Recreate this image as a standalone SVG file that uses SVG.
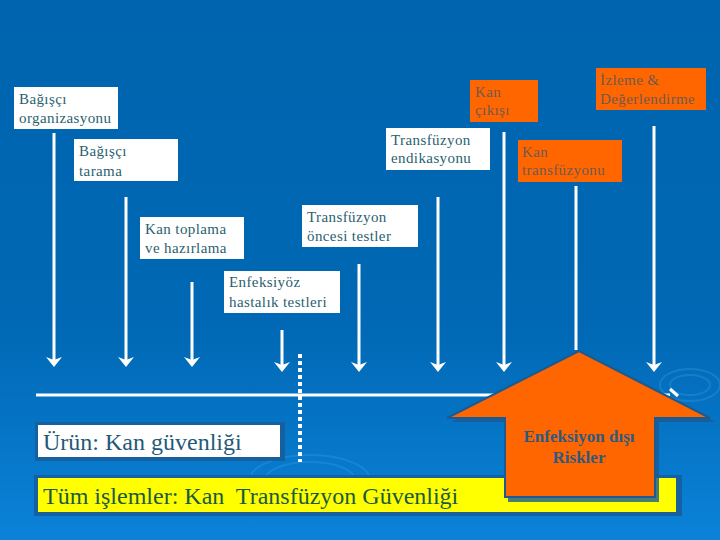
<svg xmlns="http://www.w3.org/2000/svg" width="720" height="540" viewBox="0 0 720 540">
<defs>
<linearGradient id="bg" x1="0" y1="0" x2="0" y2="1">
<stop offset="0" stop-color="#0064ae"/>
<stop offset="0.6" stop-color="#0068b4"/>
<stop offset="1" stop-color="#0b82d8"/>
</linearGradient>
</defs>
<style>
text{font-family:'Liberation Serif','Times New Roman','DejaVu Serif',serif}
.wb{fill:#fff}
.ob{fill:#ff6600}
.t{font-size:15px;fill:#2a5f70;letter-spacing:0.4px}
.to{font-size:15px;fill:#6f5a50;letter-spacing:0.4px}
.ar{stroke:#fff;stroke-width:3;fill:none}
.hd{fill:#fff}
</style>
<rect width="720" height="540" fill="url(#bg)"/>
<g fill="none" stroke="#3a9ae6" stroke-opacity="0.35" stroke-width="2">
<ellipse cx="690" cy="385" rx="20" ry="10"/>
<ellipse cx="690" cy="385" rx="30" ry="16"/>
<ellipse cx="310" cy="480" rx="60" ry="25"/>
<ellipse cx="310" cy="480" rx="45" ry="18"/>
</g>
<g id="connectors">
<line class="ar" x1="54" y1="133" x2="54" y2="363"/>
<path class="hd" d="M46,357 L54,360 L62,357 L54,367 Z"/>
<line class="ar" x1="126" y1="197" x2="126" y2="363"/>
<path class="hd" d="M118,357 L126,360 L134,357 L126,367 Z"/>
<line class="ar" x1="192" y1="282" x2="192" y2="363"/>
<path class="hd" d="M184,357 L192,360 L200,357 L192,367 Z"/>
<line class="ar" x1="282" y1="330" x2="282" y2="368"/>
<path class="hd" d="M274,362 L282,365 L290,362 L282,372 Z"/>
<line x1="300" y1="354" x2="300" y2="462" stroke="#fff" stroke-width="4" stroke-dasharray="4,3"/>
<line class="ar" x1="359" y1="264" x2="359" y2="368"/>
<path class="hd" d="M351,362 L359,365 L367,362 L359,372 Z"/>
<line class="ar" x1="438" y1="197" x2="438" y2="368"/>
<path class="hd" d="M430,362 L438,365 L446,362 L438,372 Z"/>
<line class="ar" x1="504" y1="132" x2="504" y2="368"/>
<path class="hd" d="M496,362 L504,365 L512,362 L504,372 Z"/>
<line class="ar" x1="576" y1="186" x2="576" y2="350"/>
<line class="ar" x1="654" y1="126" x2="654" y2="368"/>
<path class="hd" d="M646,362 L654,365 L662,362 L654,372 Z"/>
<line x1="36" y1="395" x2="670" y2="395" stroke="#fff" stroke-width="3"/>
<line x1="670" y1="389" x2="678" y2="396" stroke="#fff" stroke-width="3"/>
</g>
<g id="n1"><rect class="wb" x="14" y="87" width="104" height="42"/><text class="t" x="19" y="104">Bağışçı</text><text class="t" x="19" y="123">organizasyonu</text></g>
<g id="n2"><rect class="wb" x="74" y="139" width="104" height="42"/><text class="t" x="79" y="156">Bağışçı</text><text class="t" x="79" y="176">tarama</text></g>
<g id="n3"><rect class="wb" x="386" y="128" width="104" height="42"/><text class="t" x="391" y="145">Transfüzyon</text><text class="t" x="391" y="163">endikasyonu</text></g>
<g id="n4"><rect class="ob" x="470" y="80" width="68" height="42"/><text class="to" x="475" y="97">Kan</text><text class="to" x="475" y="115">çıkışı</text></g>
<g id="n5"><rect class="ob" x="596" y="68" width="110" height="42"/><text class="to" x="600" y="85">İzleme &amp;</text><text class="to" x="600" y="104">Değerlendirme</text></g>
<g id="n6"><rect class="ob" x="518" y="140" width="104" height="42"/><text class="to" x="522" y="157">Kan</text><text class="to" x="522" y="175">transfüzyonu</text></g>
<g id="n7"><rect class="wb" x="140" y="217" width="104" height="42"/><text class="t" x="145" y="234">Kan toplama</text><text class="t" x="145" y="253">ve hazırlama</text></g>
<g id="n8"><rect class="wb" x="302" y="205" width="116" height="42"/><text class="t" x="307" y="222">Transfüzyon</text><text class="t" x="307" y="241">öncesi testler</text></g>
<g id="n9"><rect class="wb" x="224" y="271" width="116" height="42"/><text class="t" x="229" y="287">Enfeksiyöz</text><text class="t" x="229" y="307">hastalık testleri</text></g>
<g id="urun">
<rect x="35" y="422" width="250" height="39" fill="#1660a0"/>
<rect x="38" y="425" width="242" height="32" fill="#fff"/>
<text x="43" y="450" font-size="24" fill="#1f5a78">Ürün: Kan güvenliği</text>
</g>
<g id="tum">
<rect x="34" y="475" width="648" height="41" fill="#1660a0"/>
<rect x="38" y="478" width="638" height="34" fill="#ffff00"/>
<text x="43" y="504" font-size="24" fill="#1a5a40" xml:space="preserve">Tüm işlemler: Kan  Transfüzyon Güvenliği</text>
</g>
<g id="risk">
<path d="M579,355 L716,422 L659,422 L659,502 L508,502 L508,422 L451,422 Z" fill="#1a5a92" opacity="0.8"/>
<path d="M579,351 L710,418 L655,418 L655,497 L505,497 L505,418 L447,418 Z" fill="#ff6600" stroke="#1c5a90" stroke-width="2"/>
<text x="579" y="442" text-anchor="middle" font-size="17" font-weight="bold" fill="#2e5a80">Enfeksiyon dışı</text>
<text x="579" y="463" text-anchor="middle" font-size="17" font-weight="bold" fill="#2e5a80">Riskler</text>
</g>
</svg>
